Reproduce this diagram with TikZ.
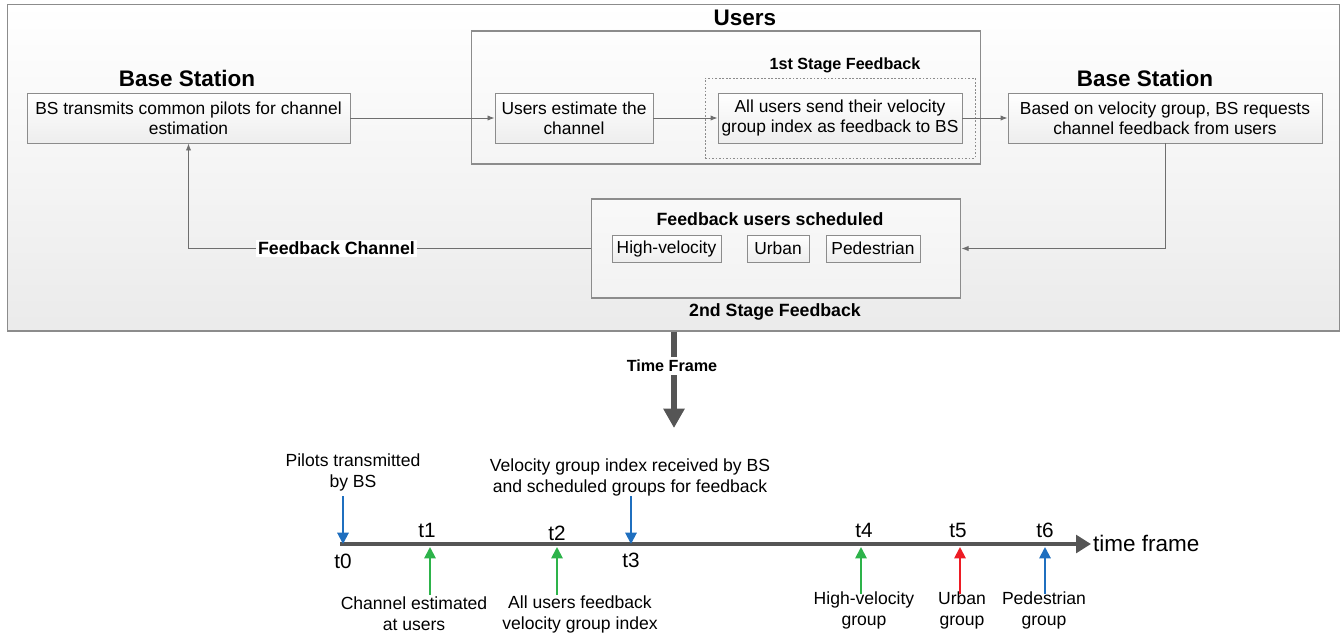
\documentclass[tikz,border=0pt]{standalone}
\usepackage{fontspec}
\setmainfont{Liberation Sans}
\usetikzlibrary{arrows.meta,shadings}
\definecolor{bord}{HTML}{8C8C8C}
\definecolor{conn}{HTML}{6E6E6E}
\definecolor{dark}{HTML}{555555}
\definecolor{bluea}{HTML}{1F6FBF}
\definecolor{greena}{HTML}{2DB34A}
\definecolor{reda}{HTML}{ED1C24}
\tikzset{
  body/.style={font=\fontsize{9.9}{11.6}\selectfont},
  title/.style={font=\fontsize{12.8}{14}\selectfont\bfseries},
  sub/.style={font=\fontsize{10.1}{12}\selectfont\bfseries},
  pbox/.style={draw=bord, line width=0.5pt, top color=white, bottom color=gray!14, align=center, inner sep=0pt, body},
  frame/.style={draw=bord, line width=0.6pt, inner sep=0pt},
  conn/.style={draw=conn, line width=0.5pt, -{Latex[length=4pt,width=3pt]}},
  tlab/.style={font=\fontsize{11.8}{13}\selectfont},
  ann/.style={align=center, font=\fontsize{10}{11.9}\selectfont},
  carrow/.style={line width=1.1pt, -{Triangle[length=6.5pt,width=6.5pt]}},
}
\begin{document}
\begin{tikzpicture}[x=0.02cm,y=-0.02cm]
\useasboundingbox (0,0) rectangle (1343,637);
% outer box
\node[frame, top color=white, bottom color=gray!16, minimum width=26.66cm, minimum height=6.54cm] (outer) at (673.5,167.5) {};
% users box
\node[frame, minimum width=10.2cm, minimum height=2.66cm] (usersbox) at (726,97.5) {};
\node[title] (userst) at (745,18) {Users};
\node[draw=bord, dashed, dash pattern=on 1pt off 1pt, line width=0.5pt, minimum width=5.4cm, minimum height=1.6cm, inner sep=0pt] (dash) at (840,118) {};
\node[sub, font=\fontsize{9.2}{11}\selectfont\bfseries] (st1) at (845,65) {1st Stage Feedback};
% titles
\node[title] (bs1t) at (187,78) {Base Station};
\node[title] (bs2t) at (1145,78) {Base Station};
% boxes
\node[pbox, minimum width=6.46cm, minimum height=1.0cm] (bs1) at (188.5,118) {BS transmits common pilots for channel\\estimation};
\node[pbox, minimum width=3.16cm, minimum height=1.0cm] (ue) at (574,118) {Users estimate the\\channel};
\node[pbox, minimum width=4.88cm, minimum height=1.0cm] (au) at (840,118) {All users send their velocity\\group index as feedback to BS};
\node[pbox, minimum width=6.28cm, minimum height=1.0cm] (br) at (1165,118) {Based on velocity group, BS requests\\channel feedback from users};
% second stage
\node[frame, top color=gray!5, bottom color=gray!10, minimum width=7.4cm, minimum height=1.98cm] (st2) at (776,248.5) {};
\node[sub] (fus) at (770,219) {Feedback users scheduled};
\node[pbox, minimum width=2.18cm, minimum height=0.54cm] (hv) at (666.5,248.5) {High-velocity};
\node[pbox, minimum width=1.24cm, minimum height=0.54cm] (ur) at (778,248.5) {Urban};
\node[pbox, minimum width=1.88cm, minimum height=0.54cm] (pe) at (873,248.5) {Pedestrian};
\node[sub] (st2t) at (775,312) {2nd Stage Feedback};
% connectors
\draw[conn] (bs1.east) -- (ue.west);
\draw[conn] (ue.east) -- (au.west);
\draw[conn] (au.east) -- (br.west);
\draw[conn] (br.south) |- (st2.east);
\draw[conn] (st2.west) -| node[pos=0.316, fill=white, inner sep=1pt, sub] (fbc) {Feedback Channel} (bs1.south);
% time frame arrow
\coordinate (tfs) at (674,331.5);
\coordinate (tfe) at (674,428);
\draw[dark, line width=3pt, -{Triangle[length=11pt,width=11.5pt]}] (tfs) -- (tfe);
\node[sub, font=\fontsize{9.2}{11}\selectfont\bfseries, fill=white, inner sep=1.5pt] (tft) at (672,366) {Time Frame};
% timeline
\coordinate (ts) at (340,544);
\coordinate (te) at (1091,544);
\draw[dark, line width=2.6pt, -{Triangle[length=8.5pt,width=10pt]}] (ts) -- (te);
\node[tlab, anchor=west, font=\fontsize{12.8}{14}\selectfont, inner sep=1pt] (tf) at (1091,543) {time frame};
\node[tlab] (t0) at (343,561) {t0};
\node[tlab] (t1) at (427,530) {t1};
\node[tlab] (t2) at (557,533) {t2};
\node[tlab] (t3) at (631,560) {t3};
\node[tlab] (t4) at (864,530) {t4};
\node[tlab] (t5) at (958,530) {t5};
\node[tlab] (t6) at (1045,530) {t6};
% annotations
\node[ann] (a0) at (353,472) {Pilots transmitted\\by BS};
\node[ann] (a3) at (630,477) {Velocity group index received by BS\\and scheduled groups for feedback};
\node[ann] (a1) at (414,614) {Channel estimated\\at users};
\node[ann] (a2) at (580,614) {All users feedback\\velocity group index};
\node[ann] (a4) at (864,610) {High-velocity\\group};
\node[ann] (a5) at (962,610) {Urban\\group};
\node[ann] (a6) at (1044,610) {Pedestrian\\group};
% event arrows
\coordinate (p0s) at (343,496); \coordinate (p0e) at (343,544);
\coordinate (p3s) at (631,496); \coordinate (p3e) at (631,544);
\coordinate (p1s) at (430,595); \coordinate (p1e) at (430,547);
\coordinate (p2s) at (557,595); \coordinate (p2e) at (557,547);
\coordinate (p4s) at (861,594); \coordinate (p4e) at (861,547);
\coordinate (p5s) at (960,594); \coordinate (p5e) at (960,547);
\coordinate (p6s) at (1045,594); \coordinate (p6e) at (1045,547);
\draw[carrow, bluea] (p0s) -- (p0e);
\draw[carrow, bluea] (p3s) -- (p3e);
\draw[carrow, greena] (p1s) -- (p1e);
\draw[carrow, greena] (p2s) -- (p2e);
\draw[carrow, greena] (p4s) -- (p4e);
\draw[carrow, reda] (p5s) -- (p5e);
\draw[carrow, bluea] (p6s) -- (p6e);
\end{tikzpicture}
\end{document}
